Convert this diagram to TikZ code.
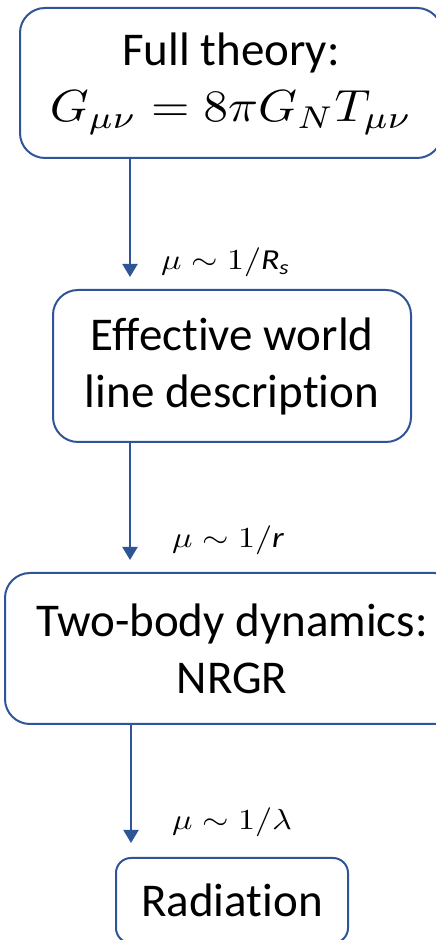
\documentclass[tikz,border=0pt]{standalone}
\usepackage{amsmath}
\usepackage{graphicx}
\usepackage[no-math]{fontspec}
\setmainfont{Carlito}[Ligatures=NoCommon]
\usetikzlibrary{arrows.meta}
\definecolor{boxblue}{RGB}{47,85,151}
\newcommand\eqbox[3]{\scalebox{#1}[#2]{\normalsize$#3$}}
\begin{document}
\begin{tikzpicture}[x=1pt, y=1pt, line join=round, >={Triangle[length=13pt,width=15pt]},
	box/.style={draw=boxblue, line width=2pt, rounded corners=25pt, align=center, inner sep=0pt,
		font=\fontsize{47}{57}\selectfont},
	flow/.style={->, draw=boxblue, fill=boxblue, line width=2pt},
	scalelbl/.style={anchor=base west, inner sep=0pt}]
	\useasboundingbox (0,0) rectangle (436,940);
	\clip (0,0) rectangle (436,940);
	\node[box, minimum width=422pt, minimum height=150pt, text height=78pt, text depth=0pt] (full) at (231,857)
		{Full theory:\\[-1pt] \eqbox{4.95}{4.5}{G_{\mu\nu}=8\pi G_N T_{\mu\nu}}};
	\node[box, minimum width=358pt, minimum height=152pt] (world) at (232,574)
		{Effective world\\ line description};
	\node[box, minimum width=454pt, minimum height=151pt] (nrgr) at (232,291.5)
		{Two-body dynamics:\\ NRGR};
	\node[box, rounded corners=15pt, minimum width=232pt, minimum height=85pt] (rad) at (232,39.5)
		{Radiation};
	\path
	(130,663) coordinate (tipA)
	(130,380) coordinate (tipB)
	(131,97) coordinate (tipC);
	\draw[flow] (full.south -| tipA) -- (tipA);
	\draw[flow] (world.south -| tipB) -- (tipB);
	\draw[flow] (nrgr.south -| tipC) -- (tipC);
	\node[scalelbl] (lblA) at (161,670) {\eqbox{3.4}{2.9}{\mu\sim 1/\text{\itshape R}_{\text{\itshape s}}}};
	\node[scalelbl] (lblB) at (172,392) {\eqbox{3.4}{2.9}{\mu\sim 1/\text{\itshape r}}};
	\node[scalelbl] (lblC) at (172,110) {\eqbox{3.4}{2.9}{\mu\sim 1/\lambda}};
\end{tikzpicture}
\end{document}
